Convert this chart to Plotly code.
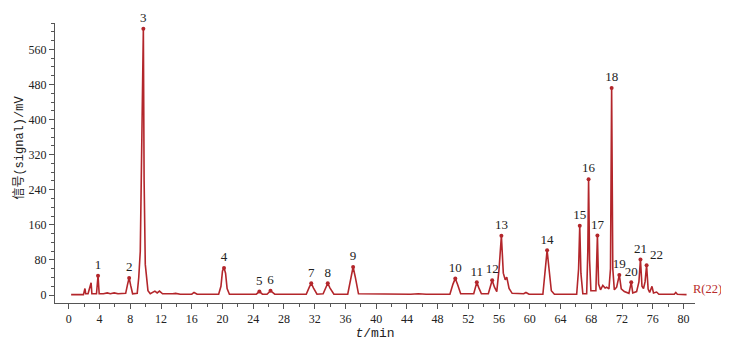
import plotly.graph_objects as go

# Chromatogram trace (retention time, min / signal, mV)
t_min = [0.3, 1.9, 2.1, 2.2, 2.5, 2.9, 3.0, 3.6, 3.8, 3.95, 4.5, 5.0, 5.4, 5.9, 6.4,
         7.4, 7.65, 7.85, 8.05, 8.3, 8.9, 9.1, 9.3, 9.5, 9.7, 9.8, 9.95, 10.3, 10.6,
         11.2, 11.5, 11.8, 12.2, 13.5, 13.9, 14.5, 16.0, 16.3, 16.7, 19.5, 19.8, 20.0,
         20.2, 20.4, 20.6, 20.9, 24.4, 24.8, 25.2, 25.8, 26.25, 26.8, 30.9, 31.3, 31.55,
         31.85, 32.3, 33.1, 33.45, 33.7, 34.0, 34.5, 36.3, 36.7, 37.0, 37.3, 37.7, 44.5,
         45.5, 46.5, 49.6, 50.0, 50.3, 50.6, 51.0, 52.7, 52.9, 53.1, 53.35, 53.7, 54.6,
         54.85, 55.1, 55.4, 55.7, 56.0, 56.3, 56.55, 56.8, 57.0, 57.3, 57.7, 59.2, 59.5,
         59.9, 61.7, 62.0, 62.25, 62.5, 62.8, 63.2, 66.1, 66.35, 66.5, 66.65, 66.9, 67.4,
         67.55, 67.65, 67.78, 67.95, 68.6, 68.8, 68.95, 69.2, 69.5, 69.8, 70.0, 70.3,
         70.5, 70.65, 70.8, 71.0, 71.3, 71.65, 71.9, 72.3, 72.9, 73.2, 73.4, 73.9, 74.2,
         74.4, 74.6, 74.8, 75.0, 75.2, 75.4, 75.6, 75.9, 76.1, 76.5, 76.8, 78.8, 79.0,
         79.2, 80.4]
signal_mv = [1, 1, 15, 3, 3, 28, 3, 3, 44, 3, 3, 5, 3, 5, 3,
             4, 25, 39, 22, 3, 4, 40, 100, 430, 607, 260, 70, 10, 3,
             9, 5, 9, 3, 3, 4, 2, 2, 6, 2, 2, 20, 55,
             62, 50, 15, 2, 2, 8, 2, 2, 10, 2, 2, 18, 27,
             16, 2, 3, 18, 27, 16, 2, 2, 40, 64, 40, 3, 2,
             3, 2, 2, 25, 38, 24, 3, 3, 20, 29, 17, 3, 3,
             22, 34, 18, 8, 60, 135, 50, 35, 41, 15, 4, 3, 6,
             2, 2, 60, 102, 60, 10, 2, 2, 60, 158, 50, 3, 3,
             100, 264, 80, 10, 10, 136, 25, 12, 22, 16, 18, 14,
             60, 472, 60, 12, 18, 46, 14, 8, 4, 29, 5, 8, 30,
             81, 20, 15, 30, 68, 14, 6, 20, 5, 7, 2, 2, 6,
             2, 1]

# Numbered peaks
peak_ids = [str(i) for i in range(1, 23)]
peak_t = [3.8, 7.85, 9.7, 20.2, 24.8, 26.25, 31.55, 33.7, 37.0, 50.3, 53.1, 55.1,
          56.3, 62.25, 66.5, 67.65, 68.8, 70.65, 71.65, 73.2, 74.4, 75.2]
peak_mv = [44, 39, 607, 62, 8, 10, 27, 27, 64, 38, 29, 34,
           135, 102, 158, 264, 136, 472, 46, 29, 81, 68]

x_ticks = list(range(0, 81, 4))
y_ticks = list(range(0, 561, 80))

LINE = "#b3262b"
SERIF = "Liberation Serif, Noto Sans CJK SC, serif"
MONO = "Liberation Mono, Noto Sans CJK SC, monospace"

label_pos = ["top center"] * 21 + ["top right"]

fig = go.Figure()
fig.add_trace(go.Scatter(x=t_min, y=signal_mv, mode="lines",
                         line=dict(color=LINE, width=1.6), hoverinfo="skip"))
fig.add_trace(go.Scatter(x=peak_t, y=peak_mv, mode="markers+text", text=peak_ids,
                         textposition=label_pos, cliponaxis=False,
                         textfont=dict(family=SERIF, size=13, color="#222222"),
                         marker=dict(color=LINE, size=4)))

fig.add_annotation(x=1.0, xref="paper", y=14, yref="y", text="R(22)", showarrow=False,
                   xanchor="left", xshift=-3, borderpad=0,
                   font=dict(family=SERIF, size=12.5, color="#b82c2c"))

# y-axis title (placed as rotated text, slightly above the axis middle as in the source)
fig.add_annotation(x=0, xref="paper", xshift=-35, y=0.555, yref="paper",
                   text="信号(signal)/mV", textangle=-90, showarrow=False,
                   xanchor="center", yanchor="middle",
                   font=dict(family=MONO, size=12, color="#222222"))

axis_common = dict(showline=True, linecolor="#555555", linewidth=1, ticks="outside",
                   tickcolor="#555555", ticklen=5, showgrid=False, zeroline=False,
                   automargin=False,
                   tickfont=dict(family=SERIF, size=12, color="#222222"))

fig.update_xaxes(range=[-1.8, 81.5], tickvals=x_ticks,
                 minor=dict(dtick=2, ticks="outside", ticklen=3, tickcolor="#555555"),
                 title=dict(text="<i>t</i>/min", font=dict(family=MONO, size=13, color="#222222"),
                            standoff=2),
                 **axis_common)
fig.update_yaxes(range=[-18, 620], tickvals=y_ticks,
                 minor=dict(dtick=20, ticks="outside", ticklen=3, tickcolor="#555555"),
                 **axis_common)

# the page body adds an 8px margin, so the figure is sized to fit the window
fig.update_layout(width=721, height=335, margin=dict(l=47, r=34, t=15, b=40),
                  paper_bgcolor="white", plot_bgcolor="white", showlegend=False)

fig.write_html("out.html")
